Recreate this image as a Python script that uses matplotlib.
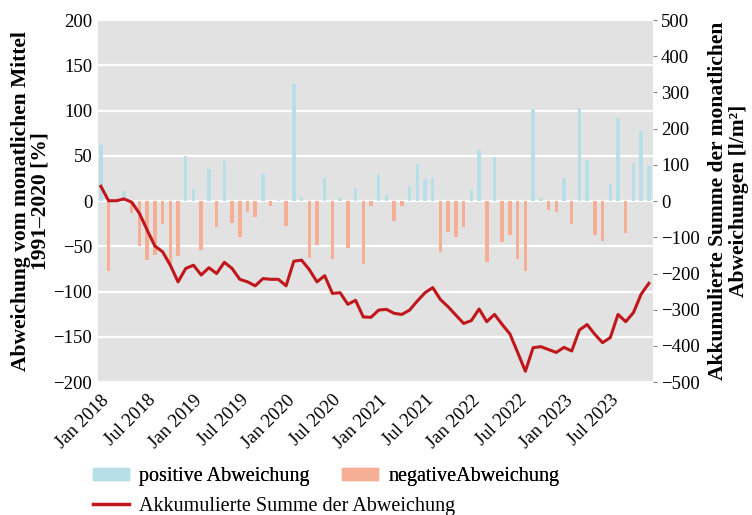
import numpy as np
import matplotlib
matplotlib.use("Agg")
import matplotlib.pyplot as plt
from matplotlib.patches import Patch
from matplotlib.lines import Line2D

plt.rcParams['font.family'] = ['Liberation Serif', 'DejaVu Serif']

# monthly deviation from 1991-2020 mean [%], Jan 2018 .. Dec 2023
abweichung = [62, -77, 0, 11, -13, -50, -65, -60, -25, -73, -61, 50,
              13, -54, 36, -29, 44, -24, -40, -12, -18, 30, -5, 1,
              -27, 129, 4, -63, -49, 25, -64, 3, -52, 15, -69, -5,
              30, 7, -22, -5, 17, 41, 24, 25, -56, -34, -40, -29,
              12, 57, -67, 49, -45, -37, -64, -77, 102, 3, -10, -12,
              25, -25, 103, 45, -37, -44, 19, 92, -35, 42, 78, 39]

# accumulated sum of monthly deviations [l/m²]
akkumuliert = [41, 1, 1, 6, -3, -34, -80, -124, -140, -177, -223, -186,
               -177, -204, -184, -200, -169, -186, -216, -223, -234, -214, -216, -216,
               -234, -166, -163, -189, -223, -206, -255, -253, -285, -274, -320, -321,
               -301, -299, -310, -313, -301, -276, -253, -239, -272, -292, -315, -338,
               -330, -298, -333, -313, -341, -367, -418, -470, -405, -402, -410, -418,
               -404, -414, -356, -341, -368, -391, -377, -313, -333, -308, -257, -227]

tick_labels = ["Jan 2018", "Jul 2018", "Jan 2019", "Jul 2019", "Jan 2020", "Jul 2020",
               "Jan 2021", "Jul 2021", "Jan 2022", "Jul 2022", "Jan 2023", "Jul 2023"]

c_pos = "#b7dfe8"
c_neg = "#f6ae94"
c_line = "#c0171c"

werte = np.array(abweichung)
x = np.arange(len(werte))
farben = [c_pos if v >= 0 else c_neg for v in werte]

fig = plt.figure(figsize=(7.52, 5.15), dpi=100)
ax = fig.add_subplot(111)
fig.subplots_adjust(left=0.130, right=0.868, top=0.961, bottom=0.258)

ax.set_facecolor("#e2e2e2")
ax.bar(x, werte, width=0.45, color=farben, zorder=2)
ax.set_ylim(-200, 200)
ax.set_yticks(np.arange(-200, 201, 50))
ax.set_xlim(-0.4, 71.5)
ax.set_xticks(np.arange(0, 72, 6))
ax.set_xticklabels(tick_labels, rotation=45, ha="right", rotation_mode="anchor")
ax.grid(True, axis="y", color="white", linewidth=1.6, zorder=1)
ax.set_axisbelow(True)
ax.tick_params(axis="both", length=0, labelsize=13.5, pad=4)
ax.tick_params(axis="x", pad=7)
for s in ax.spines.values():
    s.set_visible(False)
ax.set_ylabel("Abweichung vom monatlichen Mittel\n1991–2020 [%]",
              fontsize=15.5, fontweight="bold", labelpad=2, linespacing=0.95)

ax2 = ax.twinx()
ax2.plot(x, akkumuliert, color=c_line, linewidth=2.2, zorder=3)
ax2.set_ylim(-500, 500)
ax2.set_yticks(np.arange(-500, 501, 100))
ax2.tick_params(axis="y", length=3, color="#888888", labelsize=13.5, pad=3)
for s in ax2.spines.values():
    s.set_visible(False)
ax2.set_ylabel("Akkumulierte Summe der monatlichen\nAbweichungen [l/m²]",
               fontsize=15.5, fontweight="bold", labelpad=6, linespacing=1.05)

leg_kw = dict(frameon=False, fontsize=14.5, handlelength=1.8, handleheight=0.55,
              handletextpad=0.5, borderpad=0, borderaxespad=0)
leg1 = fig.legend(handles=[Patch(color=c_pos, label="positive Abweichung"),
                           Patch(color=c_neg, label="negativeAbweichung")],
                  ncol=2, loc="center left", bbox_to_anchor=(0.1237, 1 - 476.5 / 515),
                  columnspacing=1.6, **leg_kw)
leg2 = fig.legend(handles=[Line2D([], [], color=c_line, linewidth=2.5,
                                  label="Akkumulierte Summe der Abweichung")],
                  loc="center left", bbox_to_anchor=(0.1237, 1 - 506 / 515), **leg_kw)
fig.add_artist(leg1)

fig.savefig("out.png", dpi=100)
